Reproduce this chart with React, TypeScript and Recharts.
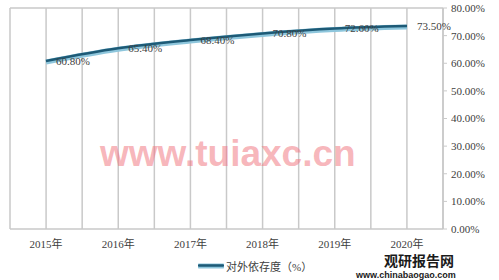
import React from 'react';
import { LineChart, Line, XAxis, YAxis, CartesianGrid, LabelList, Legend, ReferenceLine } from 'recharts';

const years = ['2015年', '2016年', '2017年', '2018年', '2019年', '2020年'];
const dependence = [60.8, 65.4, 68.4, 70.8, 72.6, 73.5];
const yTicks = [0, 10, 20, 30, 40, 50, 60, 70, 80];
const seriesName = '对外依存度（%）';

const data = years.map((y, i) => ({ year: y, value: dependence[i] }));

const FONT = "'Liberation Serif', 'Noto Sans CJK SC', serif";
const DARK = '#1d5a76';
const LIGHT = '#8ec6dc';
const GRID = '#c9c9c9';

// vertical grid lines at every category centre and boundary
const gridGenerator = ({ offset }: any) => {
  const n = years.length * 2;
  const out: number[] = [];
  for (let i = 0; i <= n; i++) out.push(offset.left + (offset.width * i) / n);
  return out;
};

const LegendContent = () => (
  <div style={{ height: 29, position: 'relative', fontFamily: FONT, fontSize: 11, color: '#404040' }}>
    <svg width={26} height={8} style={{ position: 'absolute', left: 188, top: 11 }}>
      <line x1={1} y1={4} x2={25} y2={4} stroke={LIGHT} strokeWidth={5} strokeLinecap="round" />
      <line x1={1} y1={3.5} x2={25} y2={3.5} stroke={DARK} strokeWidth={2.5} strokeLinecap="round" />
    </svg>
    <span style={{ position: 'absolute', left: 216, top: 7, whiteSpace: 'nowrap' }}>{seriesName}</span>
  </div>
);

export default function App() {
  return (
    <div style={{ position: 'absolute', left: 0, top: 0, width: 499, height: 280, background: '#fff' }}>
      <LineChart width={499} height={280} data={data} margin={{ top: 8, right: 0, left: 10, bottom: 0 }}>
        <CartesianGrid horizontal={false} vertical verticalCoordinatesGenerator={gridGenerator} stroke={GRID} strokeWidth={1.5} />
        <XAxis
          dataKey="year"
          padding={{ left: 36, right: 36 }}
          height={22}
          tickLine={false}
          axisLine={{ stroke: GRID, strokeWidth: 1.5 }}
          tickMargin={5}
          tick={{ fontFamily: FONT, fontSize: 11, fill: '#404040' }}
          interval={0}
        />
        <YAxis
          orientation="right"
          domain={[0, 80]}
          ticks={yTicks}
          width={56}
          tickSize={4}
          tickMargin={4}
          axisLine={{ stroke: GRID, strokeWidth: 1.5 }}
          tickLine={{ stroke: GRID }}
          tick={{ fontFamily: FONT, fontSize: 11, fill: '#404040' }}
          tickFormatter={(v: number) => `${v.toFixed(2)}%`}
        />
        <ReferenceLine y={80} stroke={GRID} strokeWidth={1.5} />
        <Legend verticalAlign="bottom" content={<LegendContent />} wrapperStyle={{ height: 29 }} />
        <Line
          dataKey="value"
          type="monotone"
          stroke={LIGHT}
          strokeWidth={5}
          dot={false}
          legendType="none"
          isAnimationActive={false}
          transform="translate(0,1)"
        />
        <Line
          dataKey="value"
          name={seriesName}
          type="monotone"
          stroke={DARK}
          strokeWidth={2.5}
          dot={false}
          isAnimationActive={false}
        >
          <LabelList
            dataKey="value"
            position="right"
            offset={10}
            formatter={(v: number) => `${v.toFixed(2)}%`}
            style={{ fontFamily: FONT, fontSize: 11, fill: '#404040' }}
          />
        </Line>
      </LineChart>
      <div
        style={{
          position: 'absolute', left: 100, top: 133, fontFamily: "'Liberation Sans', sans-serif",
          fontSize: 37, fontWeight: 'bold', color: 'rgba(240,120,130,0.55)', whiteSpace: 'nowrap', pointerEvents: 'none'
        }}
      >
        www.tuiaxc.cn
      </div>
      <div
        style={{
          position: 'absolute', left: 384, top: 253, fontFamily: "'Noto Sans CJK SC', sans-serif",
          fontSize: 14, fontWeight: 'bold', color: '#1a1a1a', whiteSpace: 'nowrap', lineHeight: '14px'
        }}
      >
        观研报告网
      </div>
      <div
        style={{
          position: 'absolute', left: 356, top: 270, fontFamily: "'Liberation Sans', sans-serif",
          fontSize: 9, fontWeight: 'bold', color: '#1a1a1a', whiteSpace: 'nowrap', lineHeight: '10px'
        }}
      >
        www.chinabaogao.com
      </div>
    </div>
  );
}
